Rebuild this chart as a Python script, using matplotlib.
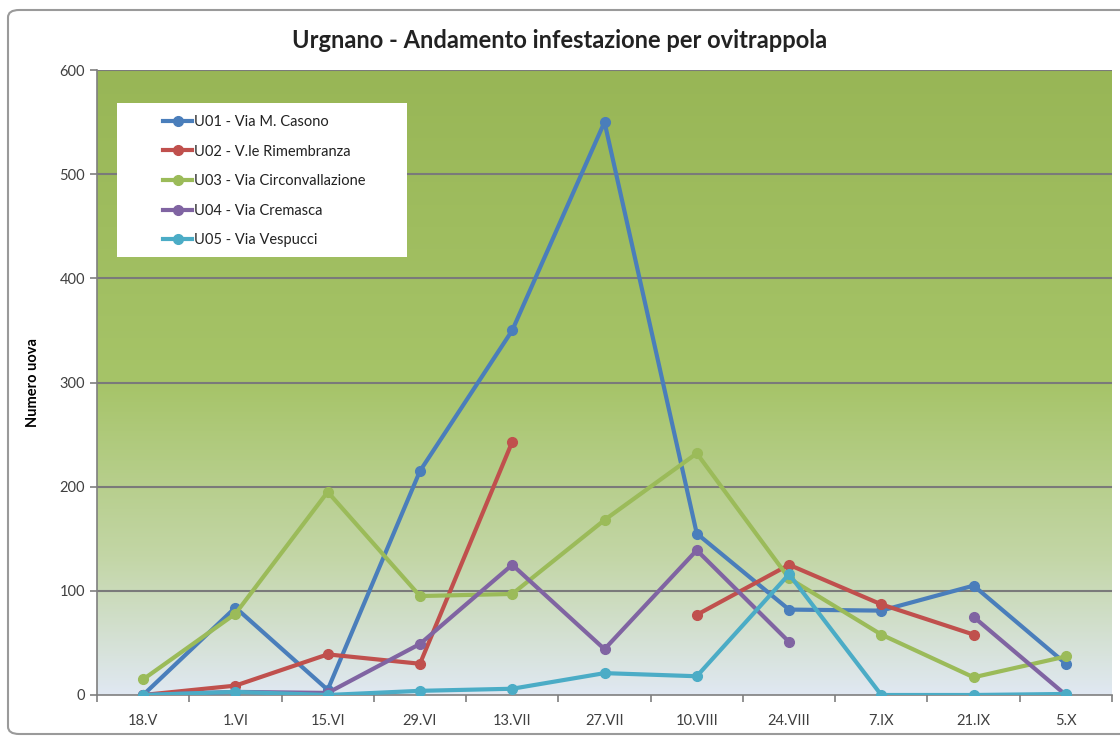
import numpy as np
import matplotlib.pyplot as plt
from matplotlib.colors import LinearSegmentedColormap
from matplotlib.patches import FancyBboxPatch

plt.rcParams['font.family'] = ['Lato', 'DejaVu Sans']

""" Data """
dates = ['18.V', '1.VI', '15.VI', '29.VI', '13.VII', '27.VII', '10.VIII', '24.VIII', '7.IX', '21.IX', '5.X']
nan = np.nan
u01 = [0, 84, 5, 215, 350, 550, 155, 82, 81, 105, 30]
u02 = [0, 9, 39, 30, 243, nan, 77, 125, 87, 58, nan]
u03 = [15, 78, 195, 95, 97, 168, 232, 112, 58, 17, 37]
u04 = [0, 3, 2, 49, 125, 44, 139, 51, nan, 75, 0]
u05 = [0, 3, 0, 4, 6, 21, 18, 116, 0, 0, 1]

labels = ['U01 - Via M. Casono', 'U02 - V.le Rimembranza', 'U03 - Via Circonvallazione',
          'U04 - Via Cremasca', 'U05 - Via Vespucci']
colors = ['#4a7ebb', '#c0504d', '#9bbb59', '#8064a2', '#4bacc6']
series = [u01, u02, u03, u04, u05]

fig = plt.figure(figsize=(11.2, 7.38), dpi=100)
fig.patch.set_facecolor('white')

# outer chart border
border = FancyBboxPatch((8 / 1120, 4 / 738), 1.2, 724 / 738, boxstyle='round,pad=0,rounding_size=0.01',
                        transform=fig.transFigure, fill=False, edgecolor='#9a9a9a', linewidth=1.5)
fig.patches.append(border)

ax = fig.add_axes([97 / 1120, 1 - 695 / 738, 1015 / 1120, 625 / 738])
x = np.arange(len(dates))

# gradient background
cmap = LinearSegmentedColormap.from_list('bg', [(0, '#e0e8f2'), (0.22, '#c3d6a6'), (0.5, '#a6c468'), (1, '#98b656')])
grad = np.linspace(0, 1, 256).reshape(-1, 1)
ax.imshow(grad, cmap=cmap, aspect='auto', extent=[-0.5, 10.5, 0, 600], origin='lower', zorder=0)

for yv in range(100, 700, 100):
    ax.axhline(yv, color='#7a7a7a', linewidth=1.5, zorder=1)

for s, c, lab in zip(series, colors, labels):
    ax.plot(x, s, color=c, linewidth=3, marker='o', markersize=7, label=lab, zorder=3)

ax.set_xlim(-0.5, 10.5)
ax.set_ylim(0, 600)
ax.set_yticks(range(0, 700, 100))
ax.set_xticks(x)
ax.set_xticklabels(dates)
ax.set_xticks(np.arange(-0.5, 11, 1), minor=True)
ax.tick_params(axis='x', which='major', length=0, pad=14, labelsize=10.5, colors='#404040')
ax.tick_params(axis='x', which='minor', length=5, color='#7f7f7f', width=1.2)
ax.tick_params(axis='y', length=5, color='#7f7f7f', width=1.2, labelsize=10.5, colors='#404040')
for sp in ['top', 'right']:
    ax.spines[sp].set_visible(False)
ax.spines['left'].set_color('#7f7f7f')
ax.spines['bottom'].set_color('#7f7f7f')
ax.spines['left'].set_linewidth(1.2)
ax.spines['bottom'].set_linewidth(1.2)

ax.set_ylabel('Numero uova', fontsize=10.5, fontweight='bold', labelpad=14)
fig.text(0.5, 1 - 40 / 738, 'Urgnano - Andamento infestazione per ovitrappola', ha='center', va='center',
         fontsize=17, fontweight='bold', color='#222222')

# white legend box, entries pushed right as in the original
frame_box = FancyBboxPatch((117 / 1120, 1 - 257 / 738), 290 / 1120, 154 / 738, boxstyle='square,pad=0',
                           transform=fig.transFigure, facecolor='white', edgecolor='none', zorder=4)
ax.add_artist(frame_box)
leg = ax.legend(loc='upper left', bbox_to_anchor=(163 / 1120, 1 - 115 / 738), bbox_transform=fig.transFigure,
                frameon=False, fontsize=10.5, handlelength=2.0, labelspacing=1.07, borderpad=0,
                handletextpad=0.15, borderaxespad=0)
for t in leg.get_texts():
    t.set_color('#222222')
leg.set_zorder(5)

plt.savefig('out.png', dpi=100)
